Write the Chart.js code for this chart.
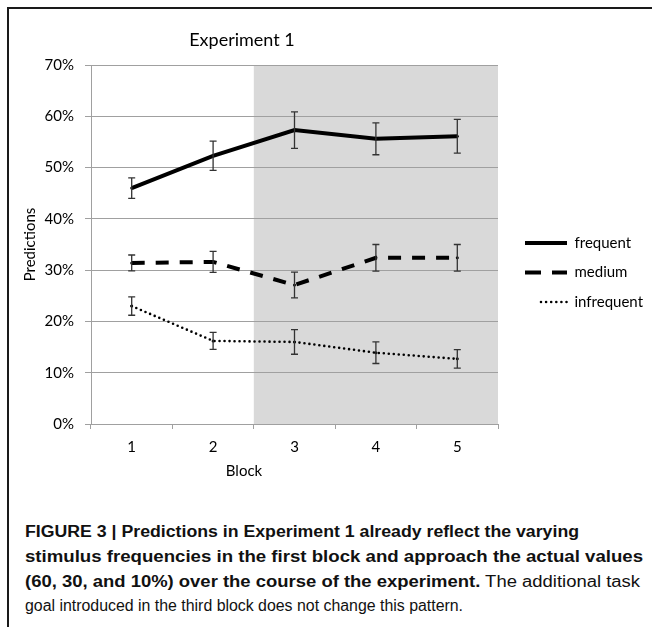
<!DOCTYPE html>
<html>
<head>
<meta charset="utf-8">
<script src="https://cdn.jsdelivr.net/npm/chart.js@4.4.1/dist/chart.umd.min.js"></script>
<style>
  html, body { margin: 0; padding: 0; background: #fff; }
  body { width: 656px; height: 627px; position: relative; overflow: hidden; }
  #frameTop { position: absolute; left: 7px; top: 7px; width: 645px; height: 1.6px; background: #1a1a1a; }
  #frameLeft { position: absolute; left: 7px; top: 7px; width: 1.6px; height: 620px; background: #1a1a1a; }
  #chartWrap { position: absolute; left: 0; top: 0; width: 656px; height: 500px; }
  .label { position: absolute; font-family: Lato, "Open Sans", sans-serif; color: #000; white-space: nowrap; transform: translateX(-50%); }
  #title { left: 242px; top: 28px; font-size: 18px; }
  #xTitle { left: 244px; top: 461px; font-size: 15px; }
  #caption { position: absolute; left: 25px; top: 520px; font-family: "Liberation Sans Narrow", "Liberation Sans", sans-serif; font-size: 16px; line-height: 24.8px; color: #111; }
  #caption div { white-space: nowrap; transform-origin: 0 50%; }
  #caption b { font-weight: bold; }
</style>
</head>
<body>
<div id="frameTop"></div>
<div id="frameLeft"></div>
<div id="chartWrap"><canvas id="chart" width="656" height="500"></canvas></div>
<div class="label" id="title">Experiment 1</div>
<div class="label" id="xTitle">Block</div>
<div id="caption">
  <div data-w="554"><b>FIGURE 3 | Predictions in Experiment 1 already reflect the varying</b></div>
  <div data-w="618"><b>stimulus frequencies in the first block and approach the actual values</b></div>
  <div data-w="615"><b>(60, 30, and 10%) over the course of the experiment.</b> The additional task</div>
  <div data-w="438">goal introduced in the third block does not change this pattern.</div>
</div>
<script>
// Blocks on the x axis
const blocks = ['1', '2', '3', '4', '5'];
// Mean prediction (%) per block, with error bar half-widths
const frequent = [46.0, 52.3, 57.3, 55.6, 56.1];
const frequentErr = [2.0, 2.85, 3.55, 3.1, 3.3];
const medium = [31.4, 31.6, 27.1, 32.4, 32.4];
const mediumErr = [1.55, 2.05, 2.5, 2.6, 2.6];
const infrequent = [23.0, 16.2, 16.0, 13.9, 12.7];
const infrequentErr = [1.8, 1.65, 2.4, 2.1, 1.8];
// Y axis range and step, in percent
const yMin = 0, yMax = 70, yStep = 10;
// First block of the additional-task phase (shaded)
const shadedFrom = 3;

const errors = [frequentErr, mediumErr, infrequentErr];

// Legend samples use their own dash patterns (drawn right to left)
const legendStyle = [
  { lineDash: [], lineDashOffset: 0, lineCap: 'butt' },
  { lineDash: [16, 11], lineDashOffset: 0, lineCap: 'butt' },
  { lineDash: [0, 5.1, 0, 5.1, 0, 5.1, 0, 5.1, 0, 5.1, 0, 30.5], lineDashOffset: 40, lineCap: 'round' }
];

const shadePlugin = {
  id: 'shade',
  beforeDraw(chart) {
    const { ctx, chartArea, scales } = chart;
    const x = scales.x;
    const i = blocks.indexOf(String(shadedFrom));
    const left = (x.getPixelForValue(i - 1) + x.getPixelForValue(i)) / 2;
    ctx.save();
    ctx.fillStyle = '#d9d9d9';
    ctx.fillRect(left, chartArea.top, chartArea.right - left, chartArea.bottom - chartArea.top);
    ctx.restore();
  }
};

const errorBarPlugin = {
  id: 'errorBars',
  afterDatasetsDraw(chart) {
    const { ctx, scales } = chart;
    ctx.save();
    ctx.strokeStyle = '#333';
    ctx.lineWidth = 1.3;
    ctx.setLineDash([]);
    chart.data.datasets.forEach((ds, di) => {
      ds.data.forEach((v, i) => {
        const e = errors[di][i];
        const x = scales.x.getPixelForValue(i);
        const yTop = scales.y.getPixelForValue(v + e);
        const yBot = scales.y.getPixelForValue(v - e);
        const cap = 3.5;
        ctx.beginPath();
        ctx.moveTo(x, yTop); ctx.lineTo(x, yBot);
        ctx.moveTo(x - cap, yTop); ctx.lineTo(x + cap, yTop);
        ctx.moveTo(x - cap, yBot); ctx.lineTo(x + cap, yBot);
        ctx.stroke();
      });
    });
    ctx.restore();
  }
};

const font = { family: 'Lato, "Open Sans", sans-serif', size: 15 };
const gridGray = '#a0a0a0';

new Chart(document.getElementById('chart'), {
  type: 'line',
  data: {
    labels: blocks,
    datasets: [
      { label: 'frequent', data: frequent, borderColor: '#000', backgroundColor: '#000',
        borderWidth: 4, pointRadius: 1.5, pointBorderWidth: 0, tension: 0 },
      { label: 'medium', data: medium, borderColor: '#000', backgroundColor: '#000',
        borderWidth: 4, borderDash: [13, 11], pointRadius: 1.5, pointBorderWidth: 0, tension: 0 },
      { label: 'infrequent', data: infrequent, borderColor: '#000', backgroundColor: '#000',
        borderWidth: 2.6, borderDash: [0, 5], borderCapStyle: 'round', pointRadius: 1.5, pointBorderWidth: 0, tension: 0 }
    ]
  },
  options: {
    responsive: false,
    animation: false,
    events: [],
    layout: { padding: { left: 17, top: 65, right: 12.5, bottom: 20 } },
    plugins: {
      title: { display: false },
      tooltip: { enabled: false },
      legend: {
        position: 'right',
        align: 'center',
        maxWidth: 133,
        labels: {
          color: '#000',
          font: font,
          padding: 14.5,
          usePointStyle: true,
          pointStyle: 'line',
          pointStyleWidth: 42,
          generateLabels(chart) {
            return chart.data.datasets.map((ds, i) => Object.assign({
              text: ds.label,
              fillStyle: '#000',
              strokeStyle: '#000',
              fontColor: '#000',
              lineWidth: i === 2 ? 2.6 : 4,
              pointStyle: 'line',
              hidden: false,
              datasetIndex: i
            }, legendStyle[i]));
          }
        }
      }
    },
    scales: {
      x: {
        type: 'category',
        offset: true,
        grid: { display: true, drawOnChartArea: false, offset: true, color: gridGray, tickLength: 5, lineWidth: 1 },
        border: { display: true, color: gridGray, width: 1 },
        ticks: { color: '#000', font: font, padding: 9, maxRotation: 0 },
        afterFit(scale) { scale.height = 56; }
      },
      y: {
        type: 'linear',
        min: yMin,
        max: yMax,
        ticks: { stepSize: yStep, color: '#000', font: font, padding: 11, callback: v => v + '%' },
        grid: { color: gridGray, tickLength: 6, lineWidth: 1 },
        border: { display: true, color: gridGray, width: 1 },
        title: { display: true, text: 'Predictions', color: '#000', font: font, padding: { top: 4, bottom: 4 } },
        afterFit(scale) { scale.width = 74; }
      },
      gap: {
        type: 'linear',
        position: 'right',
        display: true,
        grid: { display: false },
        border: { display: false },
        ticks: { display: false },
        afterFit(scale) { scale.width = 12.5; }
      }
    }
  },
  plugins: [shadePlugin, errorBarPlugin]
});

// Fit each caption line to its column width
document.querySelectorAll('#caption div').forEach(d => {
  const target = parseFloat(d.dataset.w);
  const span = document.createElement('span');
  span.innerHTML = d.innerHTML;
  d.innerHTML = '';
  d.appendChild(span);
  const actual = span.getBoundingClientRect().width;
  if (actual > 0) d.style.transform = 'scaleX(' + (target / actual).toFixed(4) + ')';
});
</script>
</body>
</html>
